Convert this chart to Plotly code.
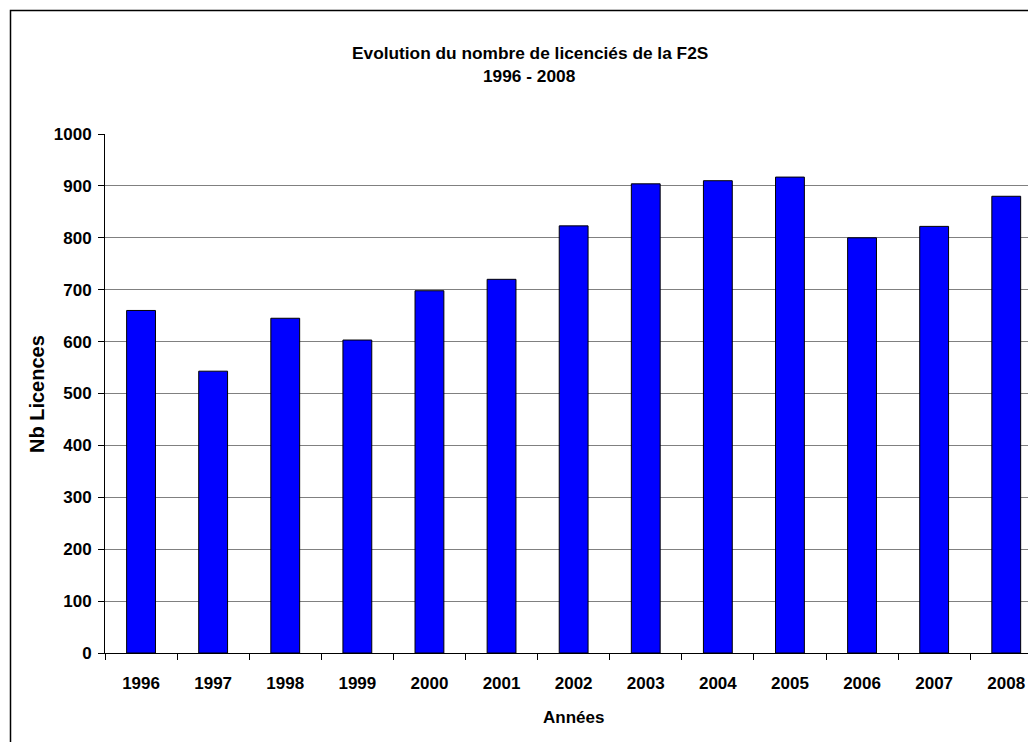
import plotly.graph_objects as go

years = ["1996", "1997", "1998", "1999", "2000", "2001", "2002",
         "2003", "2004", "2005", "2006", "2007", "2008"]
licences = [660, 543, 645, 603, 698, 720, 823, 904, 910, 917, 800, 822, 880]
y_ticks = [0, 100, 200, 300, 400, 500, 600, 700, 800, 900, 1000]

title_line1 = "Evolution du nombre de licenciés de la F2S"
title_line2 = "1996 - 2008"
x_title = "Années"
y_title = "Nb Licences"

FONT = "Liberation Sans, Arial, sans-serif"

fig = go.Figure(go.Bar(
    x=years, y=licences,
    marker=dict(color="#0000FF", line=dict(color="#000000", width=1)),
    width=0.4,
))

W, H = 1036, 742
OFF = 8  # page body margin
L = 105 - OFF
T = 134 - OFF
B = H - (653 - OFF)
plot_w = W - L
plot_h = H - T - B
cat_px = 72.1

def px_to_paper_x(px):
    return (px - OFF - L) / plot_w

def py_to_paper_y(py):
    return (H - B - (py - OFF)) / plot_h

fig.update_layout(
    width=W, height=H,
    margin=dict(l=L, r=0, t=T, b=B),
    paper_bgcolor="white", plot_bgcolor="white",
    showlegend=False,
    font=dict(family=FONT, size=17, color="black"),
    xaxis=dict(
        type="category",
        range=[-0.5, -0.5 + plot_w / cat_px],
        showline=True, linecolor="black", linewidth=1,
        ticks="outside", tickson="boundaries", ticklen=6, tickcolor="black",
        showgrid=False,
        tickfont=dict(family=FONT, size=17, color="black", weight="bold"),
        ticklabelstandoff=15,
    ),
    yaxis=dict(
        range=[0, 1000], tickvals=y_ticks,
        showline=True, linecolor="black", linewidth=1,
        ticks="outside", ticklen=6, tickcolor="black",
        showgrid=True, gridcolor="#808080", gridwidth=1,
        zeroline=False,
        tickfont=dict(family=FONT, size=17, color="black", weight="bold"),
        ticklabelstandoff=3,
    ),
    annotations=[
        dict(text="<b>" + title_line1 + "</b>", xref="paper", yref="paper",
             x=px_to_paper_x(530), y=py_to_paper_y(53), showarrow=False,
             xanchor="center", yanchor="middle", font=dict(size=17.3)),
        dict(text="<b>" + title_line2 + "</b>", xref="paper", yref="paper",
             x=px_to_paper_x(529), y=py_to_paper_y(76), showarrow=False,
             xanchor="center", yanchor="middle", font=dict(size=17.3)),
        dict(text="<b>" + x_title + "</b>", xref="paper", yref="paper",
             x=px_to_paper_x(573), y=py_to_paper_y(717), showarrow=False,
             xanchor="center", yanchor="middle", font=dict(size=17)),
        dict(text="<b>" + y_title + "</b>", xref="paper", yref="paper",
             x=px_to_paper_x(37), y=py_to_paper_y(394), showarrow=False,
             xanchor="center", yanchor="middle", textangle=-90,
             font=dict(size=20)),
    ],
    shapes=[
        dict(type="rect", xref="paper", yref="paper",
             x0=px_to_paper_x(10.5), x1=px_to_paper_x(W + 40),
             y0=py_to_paper_y(H + 40), y1=py_to_paper_y(10.5),
             line=dict(color="black", width=1.5), fillcolor="rgba(0,0,0,0)",
             layer="above"),
    ],
)

fig.write_html("out.html")
